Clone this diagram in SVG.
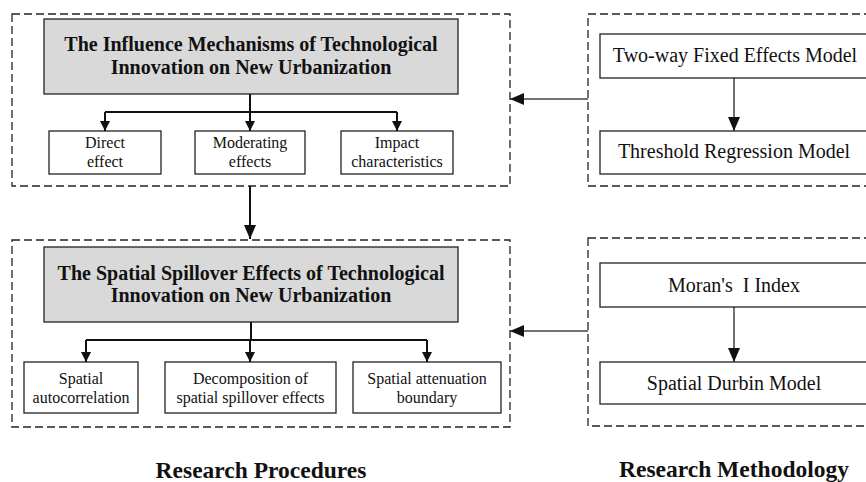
<svg xmlns="http://www.w3.org/2000/svg" width="866" height="482" viewBox="0 0 866 482">
  <style>
    .frame { fill: none; stroke: #222; stroke-width: 1.3; stroke-dasharray: 8 4; }
    .head { fill: #d9d9d9; stroke: #222; stroke-width: 1.3; }
    .box { fill: #fff; stroke: #222; stroke-width: 1.3; }
    .ht { font-family: "Liberation Serif", "Times New Roman", serif; font-weight: bold; font-size: 20px; fill: #111; text-anchor: middle; }
    .bt { font-family: "Liberation Serif", "Times New Roman", serif; font-size: 16px; fill: #111; text-anchor: middle; }
    .mt { font-family: "Liberation Serif", "Times New Roman", serif; font-size: 20px; fill: #111; text-anchor: middle; }
    .cap { font-family: "Liberation Serif", "Times New Roman", serif; font-weight: bold; font-size: 23.5px; fill: #111; text-anchor: middle; }
    .thick { fill: none; stroke: #111; stroke-width: 2; }
    .thin { fill: none; stroke: #111; stroke-width: 1.2; }
    .side { fill: none; stroke: #444; stroke-width: 1.5; }
  </style>
  <defs>
    <marker id="arr" viewBox="0 0 10 10" refX="10" refY="5" markerWidth="10" markerHeight="10" markerUnits="userSpaceOnUse" orient="auto">
      <path d="M0,0 L10,5 L0,10 z" fill="#111"/>
    </marker>
    <marker id="arrBig" viewBox="0 0 14 12" refX="14" refY="6" markerWidth="14" markerHeight="12" markerUnits="userSpaceOnUse" orient="auto">
      <path d="M0,0 L14,6 L0,12 z" fill="#111"/>
    </marker>
  </defs>

  <!-- dashed frames -->
  <g id="frames">
    <rect class="frame" x="12" y="14" width="498" height="172"/>
    <rect class="frame" x="12" y="240" width="498" height="187"/>
    <rect class="frame" x="588" y="14" width="290" height="172"/>
    <rect class="frame" x="588" y="238" width="290" height="188"/>
  </g>

  <!-- research procedures: part one -->
  <g id="mechanisms">
    <rect class="head" x="44" y="19" width="414" height="75"/>
    <text class="ht" x="251" y="51">The Influence Mechanisms of Technological</text>
    <text class="ht" x="251" y="74">Innovation on New Urbanization</text>
  </g>
  <g id="direct-effect">
    <rect class="box" x="49" y="131" width="112" height="43"/>
    <text class="bt" x="105" y="148">Direct</text>
    <text class="bt" x="105" y="167">effect</text>
  </g>
  <g id="moderating-effects">
    <rect class="box" x="195" y="131" width="110" height="43"/>
    <text class="bt" x="250" y="148">Moderating</text>
    <text class="bt" x="250" y="167">effects</text>
  </g>
  <g id="impact-characteristics">
    <rect class="box" x="341" y="131" width="112" height="43"/>
    <text class="bt" x="397" y="148">Impact</text>
    <text class="bt" x="397" y="167">characteristics</text>
  </g>

  <!-- research procedures: part two -->
  <g id="spillover">
    <rect class="head" x="44" y="247" width="414" height="75"/>
    <text class="ht" x="251" y="280">The Spatial Spillover Effects of Technological</text>
    <text class="ht" x="251" y="302">Innovation on New Urbanization</text>
  </g>
  <g id="spatial-autocorrelation">
    <rect class="box" x="24" y="362" width="114" height="51"/>
    <text class="bt" x="81" y="384">Spatial</text>
    <text class="bt" x="81" y="403">autocorrelation</text>
  </g>
  <g id="decomposition">
    <rect class="box" x="165" y="362" width="171" height="51"/>
    <text class="bt" x="250.5" y="384">Decomposition of</text>
    <text class="bt" x="250.5" y="403">spatial spillover effects</text>
  </g>
  <g id="attenuation-boundary">
    <rect class="box" x="353" y="362" width="148" height="51"/>
    <text class="bt" x="427" y="384">Spatial attenuation</text>
    <text class="bt" x="427" y="403">boundary</text>
  </g>

  <!-- research methodology -->
  <g id="two-way-fe">
    <rect class="box" x="600" y="34" width="270" height="44"/>
    <text class="mt" x="735" y="62">Two-way Fixed Effects Model</text>
  </g>
  <g id="threshold-regression">
    <rect class="box" x="600" y="131" width="270" height="43"/>
    <text class="mt" x="734" y="158">Threshold Regression Model</text>
  </g>
  <g id="morans-i">
    <rect class="box" x="600" y="263" width="270" height="44"/>
    <text class="mt" x="734" y="292" xml:space="preserve">Moran's  I Index</text>
  </g>
  <g id="spatial-durbin">
    <rect class="box" x="600" y="362" width="270" height="42"/>
    <text class="mt" x="734" y="390">Spatial Durbin Model</text>
  </g>

  <!-- captions -->
  <g id="captions">
    <text class="cap" x="261" y="478">Research Procedures</text>
    <text class="cap" x="734" y="477">Research Methodology</text>
  </g>

  <!-- connectors -->
  <g id="connectors">
    <path class="thick" d="M250,94 V112 M105,112 H397"/>
    <path class="thick" d="M105,112 V131" marker-end="url(#arr)"/>
    <path class="thick" d="M250,112 V131" marker-end="url(#arr)"/>
    <path class="thick" d="M397,112 V131" marker-end="url(#arr)"/>

    <path class="thick" d="M250,186 V239" marker-end="url(#arrBig)"/>

    <path class="thick" d="M251,322 V340 M86,340 H427"/>
    <path class="thick" d="M86,340 V362" marker-end="url(#arr)"/>
    <path class="thick" d="M250,340 V362" marker-end="url(#arr)"/>
    <path class="thick" d="M427,340 V362" marker-end="url(#arr)"/>

    <path class="thin" d="M734,78 V131" marker-end="url(#arrBig)"/>
    <path class="thin" d="M734,307 V362" marker-end="url(#arrBig)"/>

    <path class="side" d="M588,99 H510" marker-end="url(#arrBig)"/>
    <path class="side" d="M588,331 H510" marker-end="url(#arrBig)"/>
  </g>
</svg>
